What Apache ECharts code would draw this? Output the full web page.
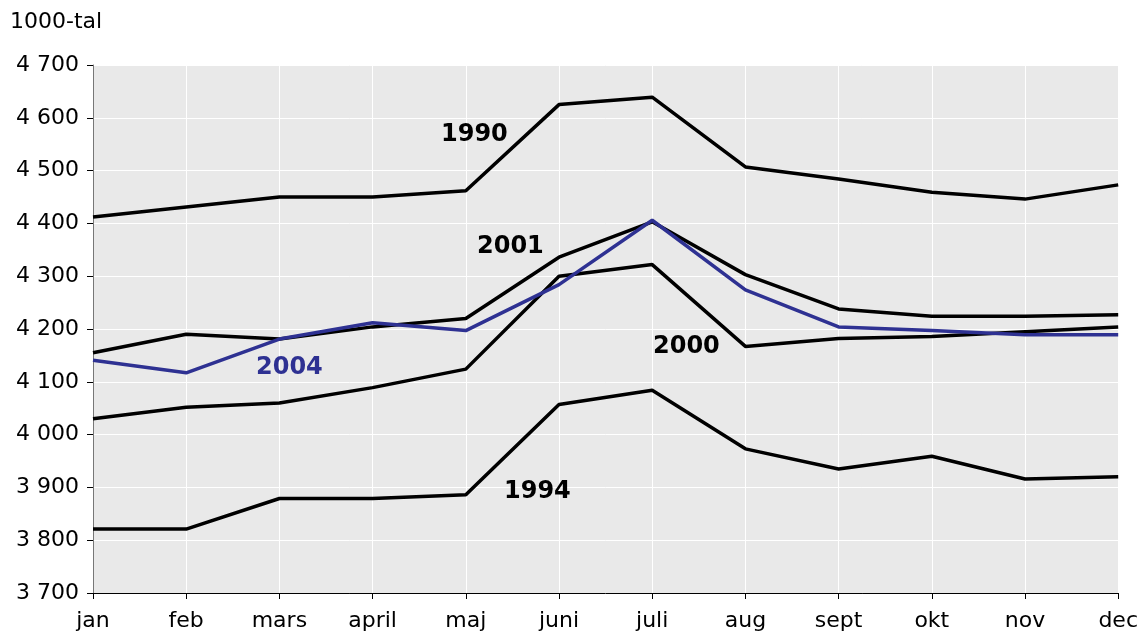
<!DOCTYPE html>
<html>
<head>
<meta charset="utf-8">
<script src="https://cdn.jsdelivr.net/npm/echarts@6/dist/echarts.min.js"></script>
<style>
    html, body { margin: 0; padding: 0; background: #fff; }
    #chart { width: 1141px; height: 634px; }
</style>
</head>
<body>
<div id="chart"></div>
<script>
const months = ['jan', 'feb', 'mars', 'april', 'maj', 'juni', 'juli', 'aug', 'sept', 'okt', 'nov', 'dec'];

const y1990 = [4412, 4431, 4450, 4450, 4462, 4625, 4639, 4507, 4484, 4459, 4446, 4473];
const y1994 = [3821, 3821, 3879, 3879, 3886, 4057, 4084, 3973, 3935, 3959, 3916, 3920];
const y2000 = [4030, 4052, 4060, 4089, 4124, 4300, 4322, 4167, 4182, 4186, 4195, 4204];
const y2001 = [4155, 4190, 4181, 4204, 4220, 4336, 4403, 4303, 4238, 4224, 4224, 4227];
const y2004 = [4141, 4117, 4181, 4212, 4197, 4284, 4406, 4274, 4204, 4197, 4189, 4189];

const FONT = 'DejaVu Sans';
const BLUE = '#2e3192';

// thousands with a space: 4700 -> "4 700"
const fmt = v => String(v).replace(/\B(?=(\d{3})+(?!\d))/g, ' ');

const line = (name, data, color) => ({
    name: name,
    type: 'line',
    data: data,
    symbol: 'none',
    animation: false,
    lineStyle: { color: color, width: 3.5 },
    z: color === BLUE ? 3 : 2
});

const label = (text, x, y, color) => ({
    type: 'text',
    left: x,
    top: y - 12,
    z: 100,
    style: { text: text, fill: color, font: 'bold 24px "' + FONT + '"' }
});

const chart = echarts.init(document.getElementById('chart'));
chart.setOption({
    backgroundColor: '#fff',
    textStyle: { fontFamily: FONT },
    grid: {
        left: 93, right: 22, top: 65, bottom: 41,
        show: true, backgroundColor: '#e9e9e9', borderWidth: 0
    },
    xAxis: {
        type: 'category',
        data: months,
        boundaryGap: false,
        axisLine: { lineStyle: { color: '#000', width: 1 } },
        axisTick: { show: true, length: 6, lineStyle: { color: '#000' } },
        axisLabel: { color: '#000', fontSize: 22, margin: 17 },
        splitLine: { show: true, lineStyle: { color: '#fff', width: 1 } }
    },
    yAxis: {
        type: 'value',
        min: 3700,
        max: 4700,
        interval: 100,
        axisLine: { show: true, lineStyle: { color: '#777', width: 1 } },
        axisTick: { show: true, length: 6, lineStyle: { color: '#000' } },
        axisLabel: { color: '#000', fontSize: 22, margin: 14, formatter: fmt },
        splitLine: { show: true, lineStyle: { color: '#fff', width: 1 } }
    },
    graphic: [
        { type: 'text', left: 10, top: 11, style: { text: '1000-tal', fill: '#000', font: '22px "' + FONT + '"' } },
        label('1990', 441, 135, '#000'),
        label('2001', 477, 247, '#000'),
        label('2000', 653, 347, '#000'),
        label('2004', 256, 368, BLUE),
        label('1994', 504, 492, '#000')
    ],
    series: [
        line('1990', y1990, '#000'),
        line('1994', y1994, '#000'),
        line('2000', y2000, '#000'),
        line('2001', y2001, '#000'),
        line('2004', y2004, BLUE)
    ]
});
</script>
</body>
</html>
